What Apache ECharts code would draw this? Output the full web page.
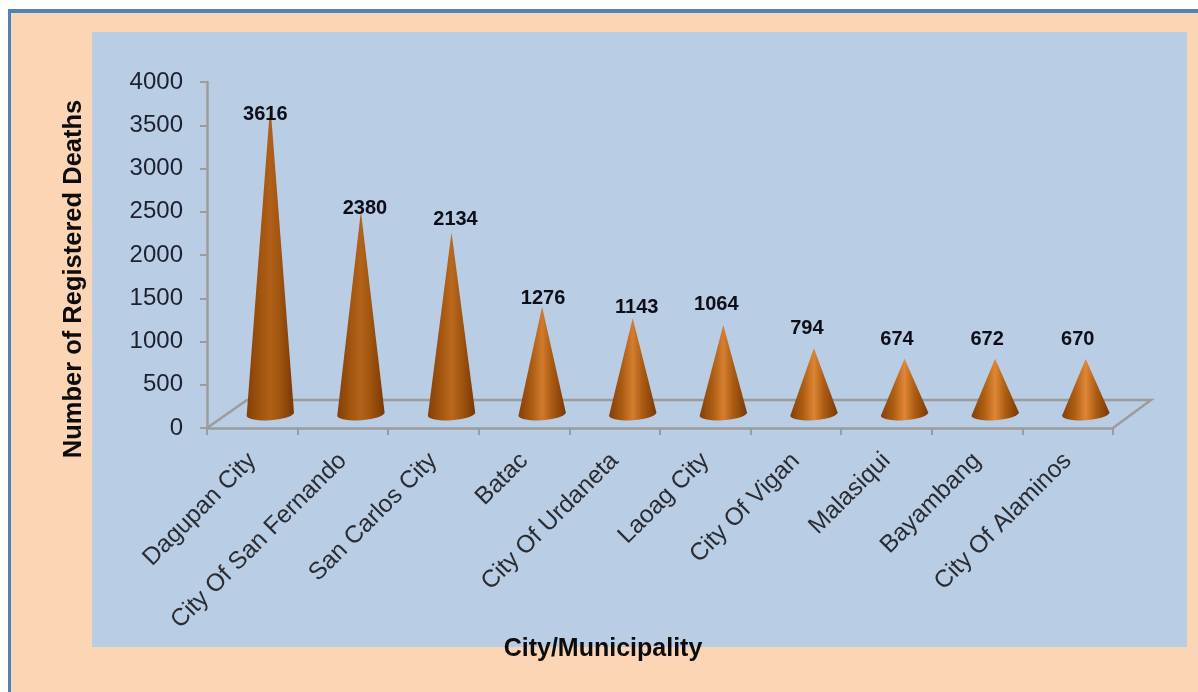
<!DOCTYPE html>
<html>
<head>
<meta charset="utf-8">
<title>Registered deaths by city</title>
<script src="https://cdn.jsdelivr.net/npm/echarts@6/dist/echarts.min.js"></script>
<style>
    html, body { margin: 0; padding: 0; background: #fff; }
    /* the source picture is a soft upscaled screenshot */
    #container { width: 1198px; height: 692px; filter: blur(0.6px); }
</style>
</head>
<body>
<div id="container"></div>
<script>
const cities = ['Dagupan City', 'City Of San Fernando', 'San Carlos City', 'Batac', 'City Of Urdaneta',
    'Laoag City', 'City Of Vigan', 'Malasiqui', 'Bayambang', 'City Of Alaminos'];
const deaths = [3616, 2380, 2134, 1276, 1143, 1064, 794, 674, 672, 670];

// the value labels were placed by hand in the original, px from the cone tip
const labelShiftX = [-5, 4, 4, 1, 4, -7, -7, -7.5, -8, -8];
const labelShiftY = [10, -3, -13, -8, -11, -20, -20, -19, -19, -20];

// floor depth of the fake 3d box
const depthX = 40;
const depthY = 28;

function mix(a, b, t) {
    const c = a.map((v, i) => Math.round(v + (b[i] - v) * t));
    return 'rgb(' + c.join(',') + ')';
}

function renderFloor(params) {
    const box = params.coordSys;
    const bottom = box.y + box.height;
    const right = box.x + box.width;
    const style = { stroke: '#9c9c9c', lineWidth: 2.5, fill: null };
    return {
        type: 'polyline',
        shape: {
            points: [
                [box.x, bottom],
                [box.x + depthX, bottom - depthY],
                [right + depthX - 2, bottom - depthY],
                [right, bottom]
            ]
        },
        style: style,
        silent: true
    };
}

function renderCone(params, api) {
    const i = api.value(0);
    const v = api.value(1);
    const base = api.coord([i, 0]);
    const top = api.coord([i, v]);
    const cx = base[0] + depthX / 2 - 2;
    const cy = base[1] - depthY / 2;
    const tipY = top[1] - 11;
    const rx = 23.7;
    const ry = 6.2;
    const tilt = 0.07;

    // cone outline: tip, then front half of a slightly tilted base ellipse
    const pts = [[cx, tipY]];
    for (let a = 0; a <= 180; a += 10) {
        const r = a * Math.PI / 180;
        const ex = rx * Math.cos(r);
        const ey = ry * Math.sin(r);
        pts.push([cx + ex * Math.cos(tilt) + ey * Math.sin(tilt), cy - ex * Math.sin(tilt) + ey * Math.cos(tilt)]);
    }

    // short cones look brighter in the middle than the tall ones
    const t = Math.min(1, Math.max(0, (v - 700) / 1800));
    const mid = mix([224, 134, 54], [176, 96, 24], t);
    const side = mix([176, 96, 20], [160, 84, 14], t);

    return {
        type: 'group',
        children: [
            {
                type: 'polygon',
                shape: { points: pts },
                style: {
                    fill: new echarts.graphic.LinearGradient(0, 0, 1, 0, [
                        { offset: 0, color: '#843f08' },
                        { offset: 0.28, color: side },
                        { offset: 0.5, color: mid },
                        { offset: 0.7, color: side },
                        { offset: 1, color: '#7a3806' }
                    ])
                }
            },
            {
                type: 'text',
                z2: 10,
                style: {
                    x: cx + labelShiftX[i],
                    y: tipY + labelShiftY[i],
                    text: String(v),
                    align: 'center',
                    verticalAlign: 'middle',
                    fill: '#0e0e18',
                    font: 'bold 20px "Liberation Sans"'
                }
            }
        ]
    };
}

const chart = echarts.init(document.getElementById('container'), null, { renderer: 'canvas' });

chart.setOption({
    animation: false,
    backgroundColor: '#ffffff',
    textStyle: { fontFamily: 'Liberation Sans' },
    graphic: [
        { type: 'rect', z: -3, shape: { x: 8, y: 9, width: 1190, height: 683 }, style: { fill: '#4f81bd' } },
        { type: 'rect', z: -2, shape: { x: 11, y: 13, width: 1187, height: 679 }, style: { fill: '#fcd5b5' } },
        { type: 'rect', z: -1, shape: { x: 92, y: 32, width: 1095, height: 615 }, style: { fill: '#b9cde5' } }
    ],
    grid: { left: 207, right: 85, top: 82, bottom: 264 },
    xAxis: {
        type: 'category',
        data: cities,
        name: 'City/Municipality',
        nameLocation: 'middle',
        nameGap: 202,
        nameTextStyle: { color: '#0c0c0c', fontWeight: 'bold', fontSize: 25, padding: [0, 114, 0, 0] },
        axisLine: { lineStyle: { color: '#9c9c9c', width: 2.5 } },
        axisTick: { show: true, length: 7, alignWithLabel: false, lineStyle: { color: '#9c9c9c', width: 2 } },
        axisLabel: { interval: 0, rotate: 45, fontSize: 24.5, color: '#2a2c32', margin: 29 }
    },
    yAxis: {
        type: 'value',
        min: 0,
        max: 4000,
        interval: 500,
        name: 'Number of Registered Deaths',
        nameLocation: 'middle',
        nameGap: 120,
        nameRotate: 90,
        nameTextStyle: { color: '#0c0c0c', fontWeight: 'bold', fontSize: 25.5, padding: [0, 48, 0, 0] },
        splitLine: { show: false },
        axisLine: { show: true, lineStyle: { color: '#9c9c9c', width: 2.5 } },
        axisTick: { show: true, length: 7, lineStyle: { color: '#9c9c9c', width: 2 } },
        axisLabel: { fontSize: 24, color: '#1e2030', margin: 24, formatter: (value) => String(value) }
    },
    series: [
        {
            type: 'custom',
            name: 'Floor',
            data: [0],
            clip: false,
            silent: true,
            z: 1,
            renderItem: renderFloor
        },
        {
            type: 'custom',
            name: 'Registered Deaths',
            data: deaths.map((v, i) => [i, v]),
            encode: { x: 0, y: 1 },
            clip: false,
            z: 3,
            renderItem: renderCone
        }
    ]
});

window.addEventListener('resize', () => chart.resize());
</script>
</body>
</html>
